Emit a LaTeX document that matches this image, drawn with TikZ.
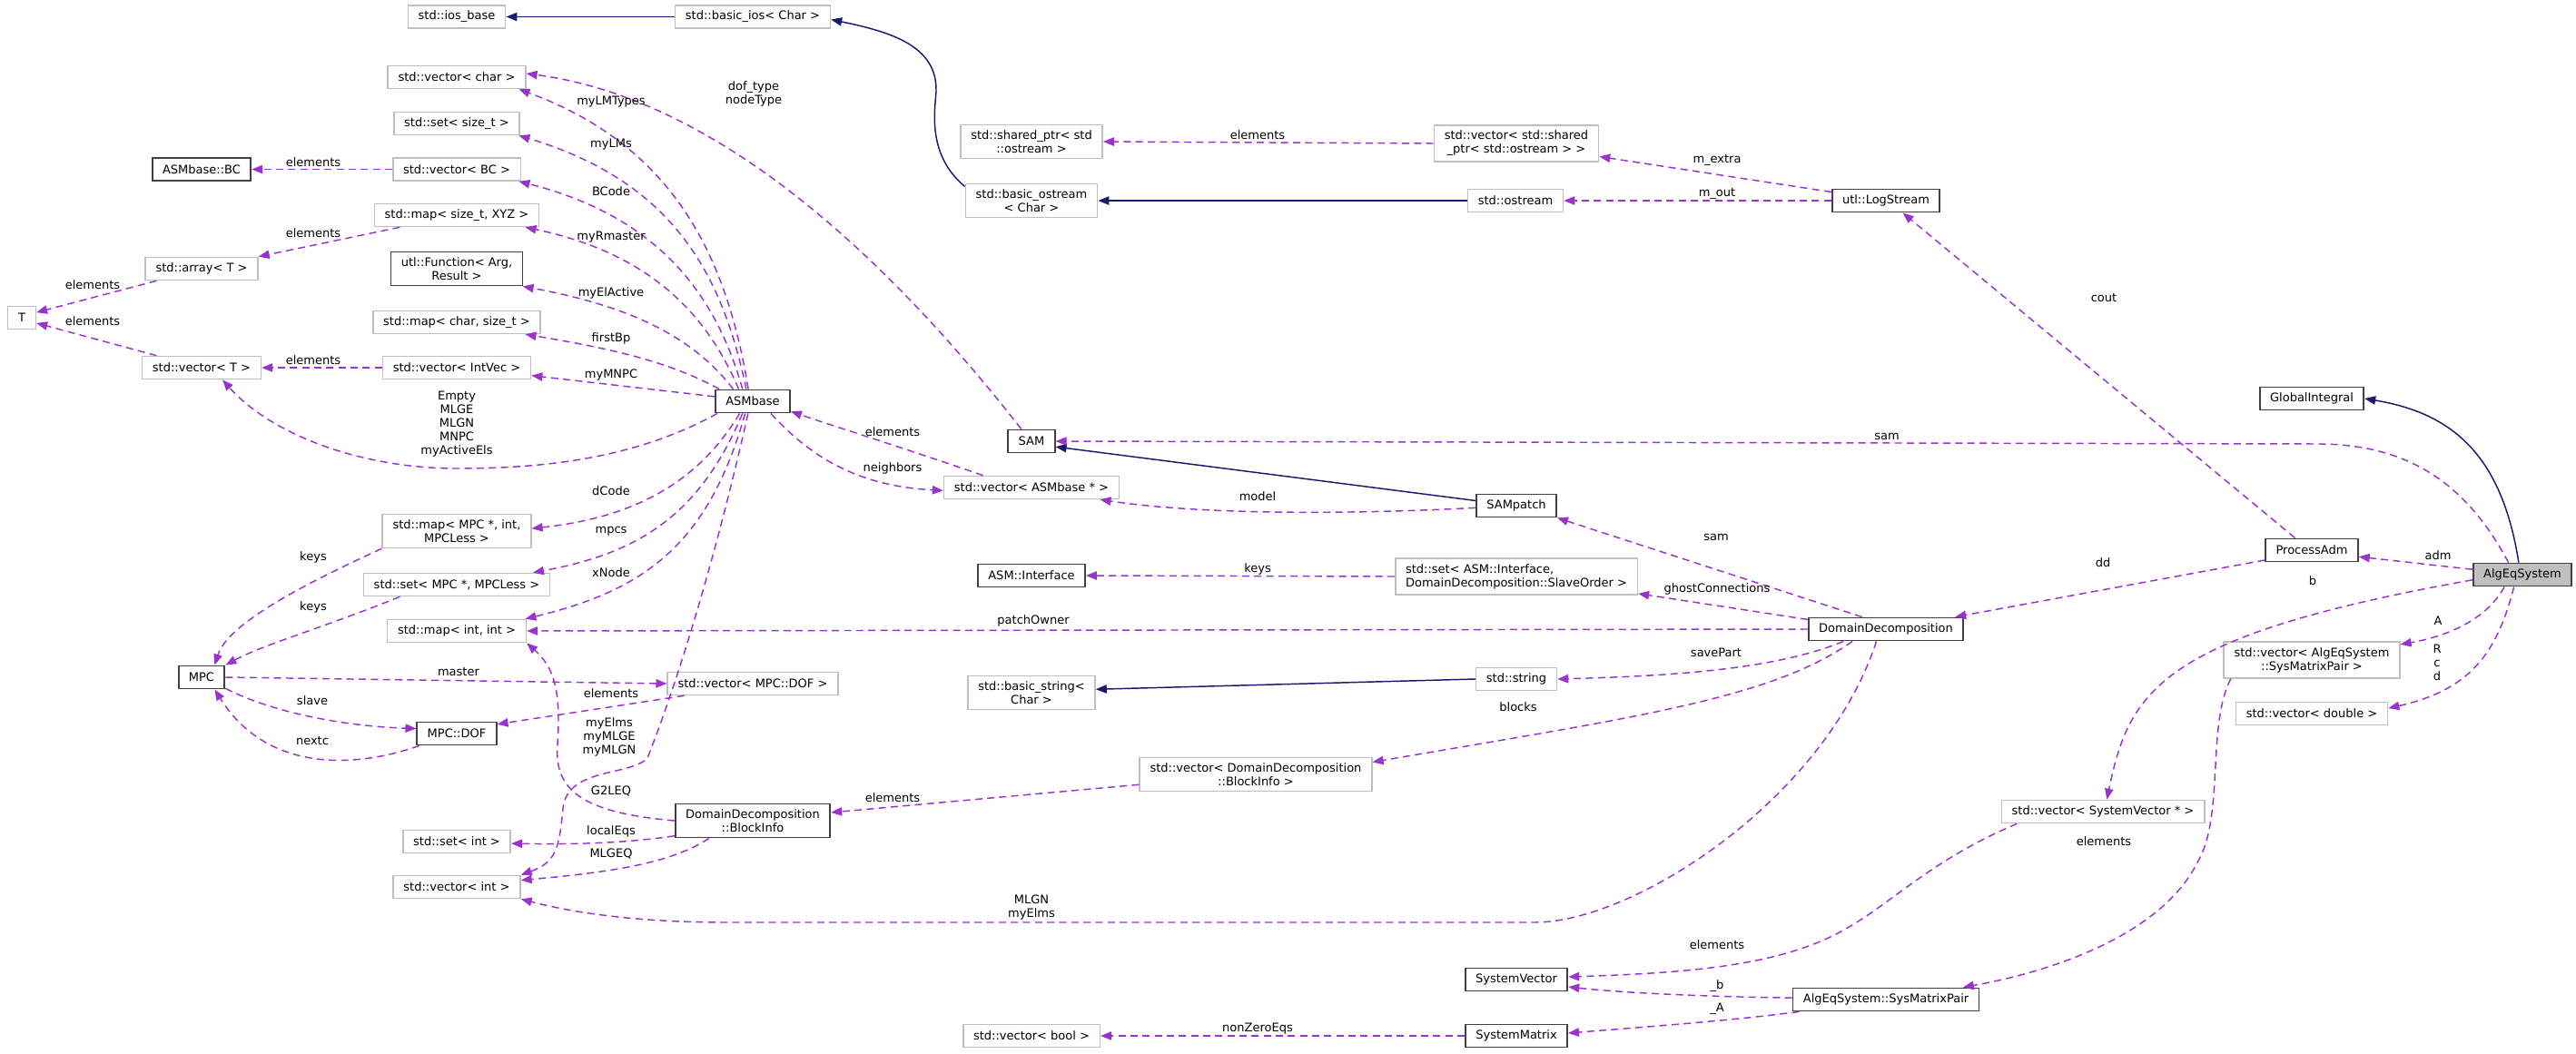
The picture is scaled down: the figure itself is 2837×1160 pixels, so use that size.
\documentclass[tikz,border=0pt]{standalone}
\usepackage{fontspec}
\setmainfont{DejaVu Sans}
\usetikzlibrary{arrows.meta}

\definecolor{edgeuse}{HTML}{9A32CD}
\definecolor{edgeinh}{HTML}{191970}
\definecolor{boxgray}{HTML}{BFBFBF}
\definecolor{boxdark}{HTML}{404040}

\tikzset{every picture/.style={line width=0.75pt}}
\tikzset{
	boxfont/.style={font=\fontsize{9.75}{11.25}\selectfont},
	cls/.style={boxfont, draw=boxdark, line width=1.4pt, fill=white, align=center,
		inner xsep=8.5pt, inner ysep=4.5pt, minimum height=18.75pt},
	ext/.style={cls, draw=boxgray, line width=1.2pt},
	lbl/.style={boxfont, inner sep=0pt, align=center},
	memb/.style={draw=edgeuse, line width=1.1pt, dash pattern=on 6pt off 4pt,
		-{Triangle[length=9pt,width=7pt]}},
	inh/.style={draw=edgeinh, line width=1.1pt, -{Triangle[length=9pt,width=7pt]}}
}

\begin{document}
\begin{tikzpicture}[x=0.75pt,y=0.75pt,yscale=-1,xscale=1]
	%set diagram to the size of the original
	\path [use as bounding box, fill=white] (0,0) rectangle (2837,1160);
	
	% Text Node
	\node [ext] (iosbase) at (503,18.5) {std::ios\_base};
	% Text Node
	\node [ext] (basicios) at (829,18.5) {std::basic\_ios< Char >};
	% Text Node
	\node [ext] (vecchar) at (503,85) {std::vector< char >};
	% Text Node
	\node [ext] (setsizet) at (503,136) {std::set< size\_t >};
	% Text Node
	\node [cls] (asmbc) at (222,186.5) {ASMbase::BC};
	% Text Node
	\node [ext] (vecbc) at (503,186.5) {std::vector< BC >};
	% Text Node
	\node [ext] (mapxyz) at (503,237) {std::map< size\_t, XYZ >};
	% Text Node
	\node [ext] (arrayt) at (222,296) {std::array< T >};
	% Text Node
	\node [cls] (utlfunc) at (503,296) {utl::Function< Arg,\\ Result >};
	% Text Node
	\node [ext] (mapchar) at (503,355) {std::map< char, size\_t >};
	% Text Node
	\node [ext] (tnode) at (24,350) {T};
	% Text Node
	\node [ext] (vect) at (222,405) {std::vector< T >};
	% Text Node
	\node [ext] (vecintvec) at (503,405) {std::vector< IntVec >};
	% Text Node
	\node [cls] (asmbase) at (829,442) {ASMbase};
	% Text Node
	\node [ext] (mapmpc) at (503,585) {std::map< MPC *, int,\\ MPCLess >};
	% Text Node
	\node [ext] (setmpc) at (503,644) {std::set< MPC *, MPCLess >};
	% Text Node
	\node [ext] (mapint) at (503,695) {std::map< int, int >};
	% Text Node
	\node [cls] (mpc) at (222,746) {MPC};
	% Text Node
	\node [ext] (vecdof) at (829,753) {std::vector< MPC::DOF >};
	% Text Node
	\node [cls] (mpcdof) at (503,808) {MPC::DOF};
	% Text Node
	\node [cls] (blockinfo) at (829,904) {DomainDecomposition\\::BlockInfo};
	% Text Node
	\node [ext] (setint) at (503,927) {std::set< int >};
	% Text Node
	\node [ext] (vecint) at (503,977) {std::vector< int >};
	% Text Node
	\node [ext] (sharedptr) at (1136,156) {std::shared\_ptr< std\\::ostream >};
	% Text Node
	\node [ext] (basicostream) at (1136,221) {std::basic\_ostream\\< Char >};
	% Text Node
	\node [ext] (vecshared) at (1670,158) {std::vector< std::shared\\\_ptr< std::ostream > >};
	% Text Node
	\node [ext] (ostream) at (1669,221) {std::ostream};
	% Text Node
	\node [cls] (logstream) at (2077,221) {utl::LogStream};
	% Text Node
	\node [cls] (sam) at (1136,486) {SAM};
	% Text Node
	\node [ext] (vecasm) at (1136,537) {std::vector< ASMbase * >};
	% Text Node
	\node [cls] (sampatch) at (1670,557) {SAMpatch};
	% Text Node
	\node [cls] (asminterface) at (1136,634) {ASM::Interface};
	% Text Node
	\node [ext, align=left] (setinterface) at (1670,635) {std::set< ASM::Interface,\\ DomainDecomposition::SlaveOrder >};
	% Text Node
	\node [ext] (basicstring) at (1136,763) {std::basic\_string<\\ Char >};
	% Text Node
	\node [ext] (stdstring) at (1670,748) {std::string};
	% Text Node
	\node [ext] (vecblock) at (1383,853) {std::vector< DomainDecomposition\\::BlockInfo >};
	% Text Node
	\node [cls] (sysvector) at (1670,1079) {SystemVector};
	% Text Node
	\node [cls] (sysmatrix) at (1670,1141) {SystemMatrix};
	% Text Node
	\node [ext] (vecbool) at (1136,1141) {std::vector< bool >};
	% Text Node
	\node [cls] (globalint) at (2546,439) {GlobalIntegral};
	% Text Node
	\node [cls] (processadm) at (2546,606) {ProcessAdm};
	% Text Node
	\node [cls, fill=boxgray] (algeq) at (2778,633) {AlgEqSystem};
	% Text Node
	\node [cls] (domdec) at (2077,693) {DomainDecomposition};
	% Text Node
	\node [ext] (vecsmp) at (2546,727) {std::vector< AlgEqSystem\\::SysMatrixPair >};
	% Text Node
	\node [ext] (vecdouble) at (2546,786) {std::vector< double >};
	% Text Node
	\node [ext] (vecsysvec) at (2316,894) {std::vector< SystemVector * >};
	% Text Node
	\node [cls] (smpair) at (2077,1101) {AlgEqSystem::SysMatrixPair};
	
	%Straight Lines
	\draw [inh] (basicios.west) -- (iosbase.east);
	%Curve Lines
	\draw [inh] (basicostream.168) .. controls (1020,170) and (1030,120) .. (1031,100) .. controls (1032,50) and (980,35) .. (basicios.-2);
	%Straight Lines
	\draw [inh] (ostream.west) -- (basicostream.east);
	%Straight Lines
	\draw [inh] (sampatch.173) -- (sam.-13);
	%Straight Lines
	\draw [inh] (stdstring.west) -- (basicstring.3);
	%Curve Lines
	\draw [inh] (algeq.107) .. controls (2755,500) and (2700,455) .. (globalint.east);
	
	%Curve Lines
	\draw [memb] (asmbase.110) .. controls (800,280) and (740,160) .. (vecchar.-11);
	%Curve Lines
	\draw [memb] (asmbase.118) .. controls (795,300) and (740,200) .. (setsizet.-11);
	%Curve Lines
	\draw [memb] (asmbase.130) .. controls (790,330) and (730,240) .. (vecbc.-11);
	%Curve Lines
	\draw [memb] (asmbase.139) .. controls (780,350) and (720,280) .. (mapxyz.-10);
	%Curve Lines
	\draw [memb] (asmbase.148) .. controls (770,380) and (710,340) .. (utlfunc.-15);
	%Curve Lines
	\draw [memb] (asmbase.160) .. controls (740,400) and (680,385) .. (mapchar.-10);
	%Straight Lines
	\draw [memb] (asmbase.173) -- (vecintvec.-6);
	%Curve Lines
	\draw [memb] (asmbase.-161) .. controls (700,505) and (600,516) .. (503,516) .. controls (400,516) and (300,480) .. (vect.-30);
	%Curve Lines
	\draw [memb] (asmbase.-137) .. controls (770,530) and (700,570) .. (mapmpc.2);
	%Curve Lines
	\draw [memb] (asmbase.-130) .. controls (770,570) and (700,610) .. (setmpc.9);
	%Curve Lines
	\draw [memb] (asmbase.-122) .. controls (780,600) and (710,650) .. (mapint.10);
	%Curve Lines
	\draw [memb] (asmbase.-111) .. controls (780,650) and (735,780) .. (713,835) .. controls (695,855) and (625,845) .. (620,890) .. controls (616,935) and (612,950) .. (vecint.north east);
	%Curve Lines
	\draw [memb] (asmbase.-34) .. controls (890,500) and (940,535) .. (vecasm.182);
	%Curve Lines
	\draw [memb] (vecasm.166) .. controls (1000,495) and (920,470) .. (asmbase.-15);
	%Curve Lines
	\draw [memb] (sam.130) .. controls (990,300) and (800,110) .. (vecchar.3);
	%Curve Lines
	\draw [memb] (sampatch.183) .. controls (1500,566) and (1330,568) .. (vecasm.-10);
	%Curve Lines
	\draw [memb] (algeq.139) .. controls (2715,530) and (2650,490) .. (2555,489) -- (sam.east);
	%Straight Lines
	\draw [memb] (algeq.174) -- (processadm.-8);
	%Straight Lines
	\draw [memb] (processadm.144) -- (logstream.-36);
	%Straight Lines
	\draw [memb] (processadm.192) -- (domdec.10);
	%Curve Lines
	\draw [memb] (algeq.186) .. controls (2380,700) and (2345,760) .. (vecsysvec.72);
	%Curve Lines
	\draw [memb] (algeq.-146) .. controls (2740,680) and (2700,700) .. (vecsmp.10);
	%Curve Lines
	\draw [memb] (algeq.-125) .. controls (2750,720) and (2720,760) .. (vecdouble.4);
	%Curve Lines
	\draw [memb] (vecsmp.-167) .. controls (2430,800) and (2450,900) .. (2420,950) .. controls (2380,1030) and (2260,1070) .. (smpair.9);
	%Curve Lines
	\draw [memb] (vecsysvec.-172) .. controls (2120,950) and (2080,1000) .. (2020,1030) .. controls (1950,1065) and (1850,1072) .. (sysvector.3);
	%Curve Lines
	\draw [memb] (smpair.179) .. controls (1900,1098) and (1800,1095) .. (sysvector.-8);
	%Curve Lines
	\draw [memb] (smpair.-172) .. controls (1900,1125) and (1800,1132) .. (sysmatrix.3);
	%Straight Lines
	\draw [memb] (sysmatrix.west) -- (vecbool.east);
	%Straight Lines
	\draw [memb] (domdec.west) -- (mapint.east);
	%Curve Lines
	\draw [memb] (domdec.-128) .. controls (2010,880) and (1800,1016) .. (1690,1016) -- (800,1016) .. controls (700,1016) and (630,1005) .. (vecint.south east);
	%Straight Lines
	\draw [memb] (domdec.153) -- (sampatch.south east);
	%Straight Lines
	\draw [memb] (domdec.173) -- (setinterface.-8);
	%Straight Lines
	\draw [memb] (setinterface.west) -- (asminterface.east);
	%Curve Lines
	\draw [memb] (domdec.-164) .. controls (1950,740) and (1820,745) .. (stdstring.east);
	%Curve Lines
	\draw [memb] (domdec.-160) .. controls (1950,770) and (1800,790) .. (vecblock.6);
	%Straight Lines
	\draw [memb] (vecblock.185) -- (blockinfo.6);
	%Curve Lines
	\draw [memb] (blockinfo.west) .. controls (640,895) and (610,870) .. (614,820) .. controls (618,760) and (610,735) .. (mapint.south east);
	%Curve Lines
	\draw [memb] (blockinfo.191) .. controls (680,930) and (620,930) .. (setint.-2);
	%Curve Lines
	\draw [memb] (blockinfo.-158) .. controls (740,950) and (680,960) .. (vecint.6);
	%Straight Lines
	\draw [memb] (logstream.171) -- (vecshared.-9);
	%Straight Lines
	\draw [memb] (logstream.west) -- (ostream.east);
	%Straight Lines
	\draw [memb] (vecshared.west) -- (sharedptr.east);
	%Straight Lines
	\draw [memb] (vecbc.west) -- (asmbc.east);
	%Straight Lines
	\draw [memb] (mapxyz.-168) -- (arrayt.north east);
	%Straight Lines
	\draw [memb] (arrayt.-165) -- (tnode.20);
	%Straight Lines
	\draw [memb] (vect.165) -- (tnode.-20);
	%Straight Lines
	\draw [memb] (vecintvec.west) -- (vect.east);
	%Curve Lines
	\draw [memb] (mapmpc.south west) .. controls (320,650) and (250,690) .. (mpc.43);
	%Curve Lines
	\draw [memb] (setmpc.-168) .. controls (360,690) and (290,710) .. (mpc.north east);
	%Straight Lines
	\draw [memb] (mpc.east) -- (vecdof.west);
	%Curve Lines
	\draw [memb] (mpc.-25) .. controls (300,785) and (380,800) .. (mpcdof.173);
	%Curve Lines
	\draw [memb] (mpcdof.-162) .. controls (380,850) and (290,845) .. (mpc.-43);
	%Straight Lines
	\draw [memb] (vecdof.-170) -- (mpcdof.13);
	
	% Text Node
	\node [lbl] (lmylmtypes) at (673,112) {myLMTypes};
	% Text Node
	\node [lbl] (ldoftype) at (830,103) {dof\_type\\nodeType};
	% Text Node
	\node [lbl] (lmylms) at (673,159) {myLMs};
	% Text Node
	\node [lbl] (lelembc) at (345,179) {elements};
	% Text Node
	\node [lbl] (lbcode) at (673,211) {BCode};
	% Text Node
	\node [lbl] (lelemarray) at (345,257) {elements};
	% Text Node
	\node [lbl] (lmyrmaster) at (673,261) {myRmaster};
	% Text Node
	\node [lbl] (lelemtarray) at (102,314) {elements};
	% Text Node
	\node [lbl] (lmyelactive) at (673,323) {myElActive};
	% Text Node
	\node [lbl] (lelemtvec) at (102,354) {elements};
	% Text Node
	\node [lbl] (lfirstbp) at (673,373) {firstBp};
	% Text Node
	\node [lbl] (lelemintvec) at (345,397) {elements};
	% Text Node
	\node [lbl] (lmymnpc) at (673,413) {myMNPC};
	% Text Node
	\node [lbl] (lempty) at (503,467) {Empty\\MLGE\\MLGN\\MNPC\\myActiveEls};
	% Text Node
	\node [lbl] (ldcode) at (673,541) {dCode};
	% Text Node
	\node [lbl] (lmpcs) at (673,585) {mpcs};
	% Text Node
	\node [lbl] (lkeysmap) at (345,614) {keys};
	% Text Node
	\node [lbl] (lxnode) at (673,631) {xNode};
	% Text Node
	\node [lbl] (lkeysset) at (345,669) {keys};
	% Text Node
	\node [lbl] (lmaster) at (505,740) {master};
	% Text Node
	\node [lbl] (lelemdof) at (673,764) {elements};
	% Text Node
	\node [lbl] (lslave) at (344,772) {slave};
	% Text Node
	\node [lbl] (lmyelms) at (671,812) {myElms\\myMLGE\\myMLGN};
	% Text Node
	\node [lbl] (lnextc) at (344,816) {nextc};
	% Text Node
	\node [lbl] (lg2leq) at (673,872) {G2LEQ};
	% Text Node
	\node [lbl] (llocaleqs) at (673,916) {localEqs};
	% Text Node
	\node [lbl] (lmlgeq) at (673,941) {MLGEQ};
	% Text Node
	\node [lbl] (lmlgn) at (1136,1000) {MLGN\\myElms};
	% Text Node
	\node [lbl] (lelemblock) at (983,879) {elements};
	% Text Node
	\node [lbl] (lelemasm) at (983,476) {elements};
	% Text Node
	\node [lbl] (lneighbors) at (983,516) {neighbors};
	% Text Node
	\node [lbl] (lmodel) at (1385,547) {model};
	% Text Node
	\node [lbl] (lkeysiface) at (1385,627) {keys};
	% Text Node
	\node [lbl] (lpatchowner) at (1138,684) {patchOwner};
	% Text Node
	\node [lbl] (lblocks) at (1672,779) {blocks};
	% Text Node
	\node [lbl] (lnonzero) at (1385,1133) {nonZeroEqs};
	% Text Node
	\node [lbl] (lelemshared) at (1385,149) {elements};
	% Text Node
	\node [lbl] (lmextra) at (1891,176) {m\_extra};
	% Text Node
	\node [lbl] (lmout) at (1891,213) {m\_out};
	% Text Node
	\node [lbl] (lcout) at (2317,328) {cout};
	% Text Node
	\node [lbl] (lsamalg) at (2078,481) {sam};
	% Text Node
	\node [lbl] (lsamdd) at (1890,592) {sam};
	% Text Node
	\node [lbl] (lghost) at (1891,649) {ghostConnections};
	% Text Node
	\node [lbl] (lsavepart) at (1890,719) {savePart};
	% Text Node
	\node [lbl] (ldd) at (2316,620) {dd};
	% Text Node
	\node [lbl] (ladm) at (2685,612) {adm};
	% Text Node
	\node [lbl] (lb) at (2547,640) {b};
	% Text Node
	\node [lbl] (la) at (2685,684) {A};
	% Text Node
	\node [lbl] (lrcd) at (2684,730) {R\\c\\d};
	% Text Node
	\node [lbl] (lelemsmp) at (2317,927) {elements};
	% Text Node
	\node [lbl] (lelemsysvec) at (1891,1041) {elements};
	% Text Node
	\node [lbl] (lsb) at (1891,1086) {\_b};
	% Text Node
	\node [lbl] (lsa) at (1891,1111) {\_A};
	
\end{tikzpicture}
\end{document}
